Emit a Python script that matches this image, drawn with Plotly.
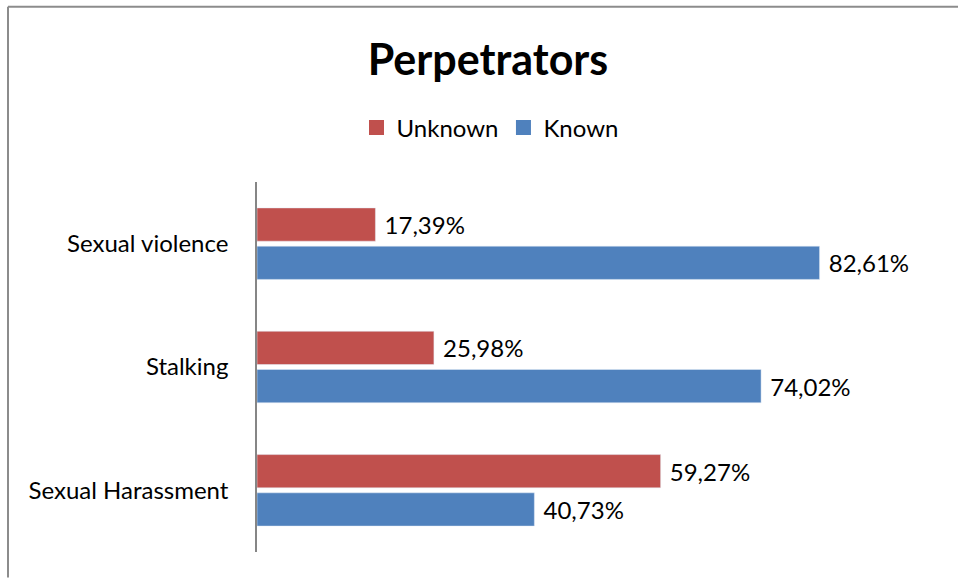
import plotly.graph_objects as go

categories = ["Sexual Harassment", "Stalking", "Sexual violence"]
unknown = [59.27, 25.98, 17.39]
known = [40.73, 74.02, 82.61]
series_names = ["Unknown", "Known"]
colors = {"Unknown": "#C0504D", "Known": "#4F81BD"}

def fmt(v):
    return " " + f"{v:.2f}".replace(".", ",") + "%"

FONT = "Lato"
FS = 24

fig = go.Figure()
fig.add_trace(go.Bar(
    y=categories, x=known, name="Known", orientation="h",
    marker=dict(color=colors["Known"]), showlegend=False,
    text=[fmt(v) for v in known], textposition="outside",
    textfont=dict(size=FS, color="#000000", family=FONT),
    cliponaxis=False,
))
fig.add_trace(go.Bar(
    y=categories, x=unknown, name="Unknown", orientation="h",
    marker=dict(color=colors["Unknown"]), showlegend=False,
    text=[fmt(v) for v in unknown], textposition="outside",
    textfont=dict(size=FS, color="#000000", family=FONT),
    cliponaxis=False,
))
# legend entries with larger square swatches
for name in series_names:
    fig.add_trace(go.Scatter(
        x=[None], y=[None], mode="markers", name=name,
        marker=dict(symbol="square", size=15, color=colors[name]),
        showlegend=True, hoverinfo="skip",
    ))

L, R, T, B = 257, 938, 182, 552.5
W, H = 958, 578

def px(x):
    return (x - L) / (R - L)

def py(y):
    return (B - y) / (B - T)

fig.update_layout(
    width=W, height=H,
    margin=dict(l=L, r=W - R, t=T, b=H - B, pad=0),
    paper_bgcolor="white", plot_bgcolor="white",
    barmode="group", bargap=0.38, bargroupgap=0.13,
    font=dict(family=FONT, color="#000000"),
    title=dict(text="<b>Perpetrators</b>", x=488 / W, xref="container", xanchor="center",
               y=1 - 60 / H, yref="container", yanchor="middle",
               font=dict(size=43, family=FONT, color="#000000")),
    legend=dict(orientation="h", traceorder="normal", x=490 / W, xref="container",
                xanchor="center", y=1 - 128 / H, yref="container", yanchor="middle",
                font=dict(size=FS, family=FONT), itemwidth=30, bgcolor="rgba(0,0,0,0)"),
    showlegend=True,
    xaxis=dict(range=[0, 100], showgrid=False, zeroline=False, showline=False,
               showticklabels=False, ticks="", fixedrange=True),
    yaxis=dict(categoryorder="array", categoryarray=categories, showgrid=False,
               zeroline=False, showline=True, linecolor="#868686", linewidth=1.5,
               ticks="", tickfont=dict(size=FS, family=FONT, color="#000000"),
               ticklabelstandoff=22),
    shapes=[
        dict(type="line", xref="paper", yref="paper", x0=px(8), x1=px(958), y0=py(6.5), y1=py(6.5),
             line=dict(color="#8C8C8C", width=2)),
        dict(type="line", xref="paper", yref="paper", x0=px(8), x1=px(8), y0=py(6.5), y1=py(578),
             line=dict(color="#8C8C8C", width=2)),
    ],
)

fig.write_html("out.html", config={"displayModeBar": False},
               post_script="document.body.style.margin='0';document.body.style.overflow='hidden';")
